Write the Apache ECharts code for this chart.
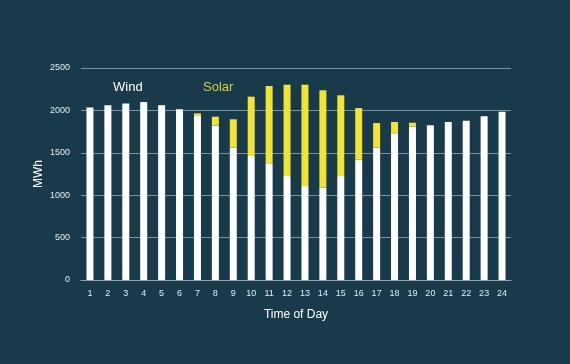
<!DOCTYPE html>
<html>
<head>
<meta charset="utf-8">
<script src="https://cdn.jsdelivr.net/npm/echarts@6/dist/echarts.min.js"></script>
<style>
html,body{margin:0;padding:0;background:#183a4a;}
#chart{width:570px;height:364px;}
</style>
</head>
<body>
<div id="chart"></div>
<script>
const hours = ['1','2','3','4','5','6','7','8','9','10','11','12','13','14','15','16','17','18','19','20','21','22','23','24'];
const windValues = [2035,2060,2080,2100,2060,2015,1935,1820,1560,1462,1376,1226,1108,1089,1226,1419,1560,1730,1808,1824,1863,1879,1930,1985];
const solarValues = [0,0,0,0,0,0,30,106,335,700,912,1077,1195,1148,952,609,291,133,47,0,0,0,0,0];
const yTicks = [0,500,1000,1500,2000,2500];

const chart = echarts.init(document.getElementById('chart'));
const font = 'Liberation Sans, Arial, Helvetica, sans-serif';
chart.setOption({
  backgroundColor: '#183a4a',
  animation: false,
  textStyle: {fontFamily: font},
  grid: {left: 81, right: 59, top: 68, bottom: 84},
  legend: [
    {data: [{name: 'Wind', textStyle: {color: '#ffffff'}}], icon: 'none', itemWidth: 0, left: 103, top: 75,
     textStyle: {fontSize: 13, fontFamily: font}},
    {data: [{name: 'Solar', textStyle: {color: '#d9d23a'}}], icon: 'none', itemWidth: 0, left: 193, top: 75,
     textStyle: {fontSize: 13, fontFamily: font}}
  ],
  xAxis: {
    type: 'category',
    data: hours,
    name: 'Time of Day',
    nameLocation: 'middle',
    nameGap: 29,
    nameTextStyle: {color: '#ffffff', fontSize: 12, fontFamily: font},
    axisLine: {lineStyle: {color: '#8fa3ad', width: 1}},
    axisTick: {show: false},
    axisLabel: {color: '#e6ecef', fontSize: 9, margin: 9, interval: 0}
  },
  yAxis: {
    type: 'value',
    min: yTicks[0],
    max: yTicks[yTicks.length - 1],
    interval: 500,
    name: 'MWh',
    nameLocation: 'middle',
    nameGap: 36,
    nameMoveOverlap: false,
    nameRotate: 90,
    nameTextStyle: {color: '#ffffff', fontSize: 12, fontFamily: font},
    axisLine: {show: false},
    axisTick: {show: false},
    axisLabel: {color: '#e6ecef', fontSize: 9, margin: 11, formatter: v => String(v)},
    splitLine: {lineStyle: {color: '#7a919b', width: 1}}
  },
  series: [
    {name: 'Wind', type: 'bar', stack: 'gen', data: windValues, barWidth: 7,
     itemStyle: {color: '#ffffff'}},
    {name: 'Solar', type: 'bar', stack: 'gen', data: solarValues, barWidth: 7,
     itemStyle: {color: '#f2e433'}}
  ]
});
</script>
</body>
</html>
